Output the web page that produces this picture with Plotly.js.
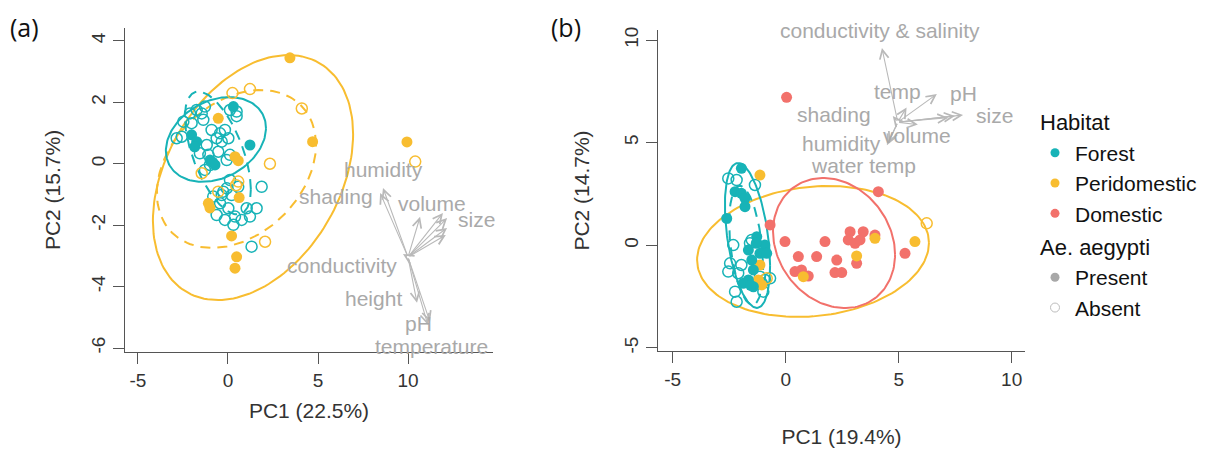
<!DOCTYPE html>
<html>
<head>
<meta charset="utf-8">
<script src="https://cdn.plot.ly/plotly-3.0.1.min.js"></script>
<style>html,body{margin:0;padding:0;background:#fff;}#chart{width:1220px;height:453px;}</style>
</head>
<body>
<div id="chart"></div>
<script>
// ---------------- DATA ----------------
// Panel (a) scores
const a_forest_present_x = [0.30, 1.22, -2.02, -1.74, -1.85, -1.0, -0.72, -0.85];
const a_forest_present_y = [1.86, 0.61, 0.94, 0.72, 0.55, 0.12, -0.04, 0.05];
const a_forest_absent_x = [-1.28, -1.74, -2.11, -1.46, -2.48, -2.02, -2.57, -2.85, 0.48, 0.11, 0.48, -0.91, -0.44, -0.17, -0.63, -0.35, 0.02, -1.18, -1.09, -0.54, -0.07, -1.56, -1.0, -1.28, 0.11, -1.37, -0.07, 0.57, 1.87, -0.35, 0.2, -0.44, 0.02, -0.63, -0.17, 0.39, 0.3, 1.04, 1.59, 1.22, 1.31, 0.11, -0.82, -0.26, 0.76];
const a_forest_absent_y = [1.86, 1.75, 1.64, 1.64, 1.37, 1.32, 0.88, 0.83, 1.7, 1.75, 1.55, 1.1, 0.99, 1.1, 0.83, 0.72, 0.83, 0.61, 0.29, 0.39, 0.12, 0.34, -0.04, -0.2, 0.29, 1.43, -0.8, -0.75, -0.75, -1.02, -1.02, -1.29, -1.45, -1.67, -1.83, -1.72, -1.99, -1.45, -1.45, -1.72, -2.7, -0.53, -1.07, -0.91, -1.83];
const a_peri_present_x = [3.44, 4.7, 9.94, -0.54, 0.39, 0.57, -1.09, -1.0, 0.62, 0.2, 0.48, 0.39];
const a_peri_present_y = [3.45, 0.72, 0.71, 1.48, 0.23, 0.1, -1.29, -1.44, -1.1, -2.35, -3.03, -3.4];
const a_peri_absent_x = [10.4, 0.25, 1.22, 4.1, 2.33, 2.06, -1.46, -0.54, 0.57, 0.45];
const a_peri_absent_y = [0.07, 2.3, 2.43, 1.8, 0.0, -2.54, -0.31, -0.91, -0.58, -0.7];

// Panel (b) scores
const b_forest_present_x = [-1.96, -2.24, -1.96, -1.8, -1.8, -2.61, -1.28, -0.92, -1.65, -1.14, -1.5, -1.43, -1.65, -1.88, -1.43, -0.84, -1.3, -1.55];
const b_forest_present_y = [3.75, 2.61, 2.53, 2.29, 1.88, 1.31, 0.42, 0.01, -0.23, -0.39, -0.72, -1.2, -1.69, -1.85, -2.02, -0.39, 0.1, -1.95];
const b_forest_absent_x = [-2.54, -2.17, -1.36, -2.32, -1.58, -2.46, -1.96, -2.54, -2.1, -0.92, -0.69, -2.24, -0.99, -2.17, -1.5, -1.14, -1.06];
const b_forest_absent_y = [3.26, 3.18, 2.94, 0.01, 0.1, -0.88, -0.96, -1.28, -1.36, -1.69, -1.61, -2.26, -2.26, -2.75, 0.26, -1.53, -1.85];
const b_peri_present_x = [-1.14, -1.14, -1.21, -1.06, 3.95, 5.72, 0.78, 3.14];
const b_peri_present_y = [3.42, -0.96, -1.69, -1.93, 0.34, 0.18, -1.53, -0.52];
const b_peri_absent_x = [6.24, -0.84];
const b_peri_absent_y = [1.07, -1.61];
const b_dom_present_x = [0.04, 4.1, -0.69, -0.03, 1.74, 2.85, 3.43, 3.95, 2.77, 3.07, 3.29, 0.56, 1.37, 2.26, 3.14, 0.41, 0.7, 1.0, 2.18, 2.48, 5.28];
const b_dom_present_y = [7.21, 2.61, 0.99, 0.18, 0.18, 0.66, 0.66, 0.5, 0.26, 0.1, 0.26, -0.55, -0.55, -0.72, -0.88, -1.28, -1.2, -1.5, -1.33, -1.33, -0.39];

// Confidence ellipses: [centre x, centre y, half-width, half-height, phase]
const a_ell_forest_present = [-0.67, 0.79, 2.78, 1.38, 1.30];
const a_ell_forest_absent  = [-0.56, 0.35, 1.83, 2.0, 2.2];
const a_ell_peri_present   = [1.39, -0.45, 5.56, 3.99, 1.21];
const a_ell_peri_absent    = [0.47, -0.17, 4.42, 2.57, 1.26];
const b_ell_forest_present = [-1.69, 0.48, 1.0, 3.53, 2.0];
const b_ell_forest_absent  = [-1.75, 0.0, 0.75, 2.9, 1.95];
const b_ell_peri_present   = [1.21, -0.30, 5.13, 3.19, 1.44];
const b_ell_dom_present    = [2.14, 0.11, 2.70, 3.17, 1.75];

// Variable loadings (biplot arrows)
const a_origin = [10.0, -3.04];
const a_arrow_x = [8.61, 8.45, 10.67, 11.94, 12.17, 12.17, 12.1, 9.72, 10.5, 11.22, 11.1];
const a_arrow_y = [-0.79, -0.95, -1.73, -1.6, -1.77, -2.09, -2.32, -2.94, -4.53, -5.15, -5.24];
const a_labels = ['humidity', 'shading', 'volume', 'size', 'conductivity', 'height', 'pH', 'temperature'];
const a_label_x = [8.61, 6.0, 11.33, 13.78, 6.33, 8.06, 10.56, 11.33];
const a_label_y = [-0.2, -1.08, -1.31, -1.8, -3.32, -4.4, -5.19, -5.96];

const b_origin = [4.96, 6.0];
const b_arrow_x = [4.26, 5.35, 6.69, 7.85, 7.49, 7.2, 5.85, 4.74, 4.48, 4.55];
const b_arrow_y = [9.61, 6.72, 7.37, 6.35, 6.3, 6.22, 5.88, 6.3, 4.88, 5.0];
const b_labels = ['conductivity & salinity', 'temp', 'pH', 'shading', 'size', 'volume', 'humidity', 'water temp'];
const b_label_x = [4.18, 4.93, 7.85, 2.14, 9.26, 5.81, 2.45, 3.46];
const b_label_y = [10.45, 7.47, 7.42, 6.37, 6.34, 5.37, 4.96, 3.9];

// Axis ticks and titles
const a_xticks = [-5, 0, 5, 10];
const a_xticktext = ['-5', '0', '5', '10'];
const a_yticks = [-6, -4, -2, 0, 2, 4];
const a_yticktext = ['-6', '-4', '-2', '0', '2', '4'];
const b_xticks = [-5, 0, 5, 10];
const b_xticktext = ['-5', '0', '5', '10'];
const b_yticks = [-5, 0, 5, 10];
const b_yticktext = ['-5', '0', '5', '10'];
const habitats = ['Forest', 'Peridomestic', 'Domestic'];
const presence = ['Present', 'Absent'];

// ---------------- STYLE ----------------
const TEAL = '#17B3B7', YEL = '#F8BD30', RED = '#F2716B';
const ARROW = '#b9b9b9', LABEL = '#a9a9a9';
const FONT = 'Liberation Sans, Arial, Helvetica, sans-serif';

function ellipse(p, n) {
  const xs = [], ys = [];
  for (let i = 0; i <= n; i++) {
    const t = 2 * Math.PI * i / n;
    xs.push(p[0] + p[2] * Math.cos(t));
    ys.push(p[1] + p[3] * Math.cos(t - p[4]));
  }
  return {x: xs, y: ys};
}
function ellTrace(p, color, dash, xa, ya) {
  const e = ellipse(p, 160);
  return {type: 'scatter', mode: 'lines', x: e.x, y: e.y, xaxis: xa, yaxis: ya,
    line: {color: color, width: 2, dash: dash}, showlegend: false, hoverinfo: 'skip'};
}
function pts(x, y, color, filled, xa, ya) {
  return {type: 'scatter', mode: 'markers', x: x, y: y, xaxis: xa, yaxis: ya, showlegend: false,
    marker: filled ? {symbol: 'circle', size: 11, color: color, line: {width: 0}}
                   : {symbol: 'circle-open', size: 11, color: color, line: {width: 1.5, color: color}}};
}

const traces = [
  ellTrace(a_ell_peri_present, YEL, 'solid', 'x', 'y'),
  ellTrace(a_ell_peri_absent, YEL, '10px,7px', 'x', 'y'),
  ellTrace(a_ell_forest_present, TEAL, 'solid', 'x', 'y'),
  ellTrace(a_ell_forest_absent, TEAL, '10px,7px', 'x', 'y'),
  pts(a_forest_absent_x, a_forest_absent_y, TEAL, false, 'x', 'y'),
  pts(a_peri_absent_x, a_peri_absent_y, YEL, false, 'x', 'y'),
  pts(a_peri_present_x, a_peri_present_y, YEL, true, 'x', 'y'),
  pts(a_forest_present_x, a_forest_present_y, TEAL, true, 'x', 'y'),

  ellTrace(b_ell_peri_present, YEL, 'solid', 'x2', 'y2'),
  ellTrace(b_ell_dom_present, RED, 'solid', 'x2', 'y2'),
  ellTrace(b_ell_forest_present, TEAL, 'solid', 'x2', 'y2'),
  ellTrace(b_ell_forest_absent, TEAL, '10px,7px', 'x2', 'y2'),
  pts(b_forest_absent_x, b_forest_absent_y, TEAL, false, 'x2', 'y2'),
  pts(b_peri_absent_x, b_peri_absent_y, YEL, false, 'x2', 'y2'),
  pts(b_dom_present_x, b_dom_present_y, RED, true, 'x2', 'y2'),
  pts(b_peri_present_x, b_peri_present_y, YEL, true, 'x2', 'y2'),
  pts(b_forest_present_x, b_forest_present_y, TEAL, true, 'x2', 'y2')
];

// legend-only traces
const legColors = [TEAL, YEL, RED];
habitats.forEach((h, i) => traces.push({
  type: 'scatter', mode: 'markers', x: [null], y: [null], xaxis: 'x2', yaxis: 'y2', name: h,
  legendgroup: 'habitat', legendgrouptitle: {text: 'Habitat', font: {family: FONT, size: 22, color: '#111'}},
  marker: {symbol: 'circle', size: 9, color: legColors[i]}
}));
presence.forEach((p, i) => traces.push({
  type: 'scatter', mode: 'markers', x: [null], y: [null], xaxis: 'x2', yaxis: 'y2', name: p,
  legendgroup: 'aegypti', legendgrouptitle: {text: 'Ae. aegypti', font: {family: FONT, size: 22, color: '#111'}},
  marker: i === 0 ? {symbol: 'circle', size: 9, color: '#a8a8a8'}
                  : {symbol: 'circle-open', size: 9, color: '#bdbdbd', line: {width: 1, color: '#bdbdbd'}}
}));

const annotations = [];
function arrows(origin, xs, ys, xr, yr) {
  xs.forEach((x, i) => annotations.push({
    x: x, y: ys[i], ax: origin[0], ay: origin[1], xref: xr, yref: yr, axref: xr, ayref: yr,
    text: '', showarrow: true, arrowhead: 5, arrowsize: 1.6, arrowwidth: 1.1, arrowcolor: ARROW, standoff: 0, startstandoff: 0
  }));
}
function labels(txt, xs, ys, xr, yr) {
  txt.forEach((t, i) => annotations.push({
    x: xs[i], y: ys[i], xref: xr, yref: yr, text: t, showarrow: false, xanchor: 'center', yanchor: 'middle',
    font: {family: FONT, size: 21, color: LABEL}
  }));
}
arrows(a_origin, a_arrow_x, a_arrow_y, 'x', 'y');
arrows(b_origin, b_arrow_x, b_arrow_y, 'x2', 'y2');
labels(a_labels, a_label_x, a_label_y, 'x', 'y');
labels(b_labels, b_label_x, b_label_y, 'x2', 'y2');
annotations.push({x: 25 / 1220, y: 1 - 27 / 453, xref: 'paper', yref: 'paper', text: '(a)', showarrow: false,
  xanchor: 'center', yanchor: 'middle', font: {family: 'Open Sans, sans-serif', size: 25, color: '#111'}});
annotations.push({x: 566 / 1220, y: 1 - 27 / 453, xref: 'paper', yref: 'paper', text: '(b)', showarrow: false,
  xanchor: 'center', yanchor: 'middle', font: {family: 'Open Sans, sans-serif', size: 25, color: '#111'}});

const axBase = {showline: true, linecolor: '#555', linewidth: 1, ticks: 'outside', ticklen: 11, tickcolor: '#555',
  tickwidth: 1, showgrid: false, zeroline: false, tickfont: {family: FONT, size: 19, color: '#333'}, fixedrange: true,
  tickmode: 'array'};
const titleFont = {family: FONT, size: 21, color: '#333'};

const layout = {
  width: 1220, height: 453, margin: {l: 0, r: 0, t: 0, b: 0},
  paper_bgcolor: '#fff', plot_bgcolor: '#fff', font: {family: FONT, color: '#333'},
  showlegend: true,
  legend: {x: 1035 / 1220, y: 1 - 101 / 453, xanchor: 'left', yanchor: 'top', traceorder: 'grouped', tracegroupgap: 2,
    font: {family: FONT, size: 21, color: '#111'}, bgcolor: 'rgba(0,0,0,0)'},
  xaxis: Object.assign({}, axBase, {domain: [125 / 1220, 493 / 1220], range: [-5.72, 14.72], tickvals: a_xticks, ticktext: a_xticktext, anchor: 'y',
    title: {text: 'PC1 (22.5%)', font: titleFont, standoff: 13}}),
  yaxis: Object.assign({}, axBase, {domain: [(453 - 352) / 453, (453 - 28) / 453], range: [-6.13, 4.42], tickvals: a_yticks, ticktext: a_yticktext, anchor: 'x', tickangle: -90,
    title: {text: 'PC2 (15.7%)', font: titleFont, standoff: 22}}),
  xaxis2: Object.assign({}, axBase, {domain: [658 / 1220, 1025 / 1220], range: [-5.65, 10.59], tickvals: b_xticks, ticktext: b_xticktext, anchor: 'y2',
    title: {text: 'PC1 (19.4%)', font: titleFont, standoff: 40}}),
  yaxis2: Object.assign({}, axBase, {domain: [(453 - 351) / 453, (453 - 30) / 453], range: [-5.15, 10.49], tickvals: b_yticks, ticktext: b_yticktext, anchor: 'x2', tickangle: -90,
    title: {text: 'PC2 (14.7%)', font: titleFont, standoff: 26}}),
  annotations: annotations
};

Plotly.newPlot('chart', traces, layout, {displayModeBar: false, staticPlot: true});
</script>
</body>
</html>
